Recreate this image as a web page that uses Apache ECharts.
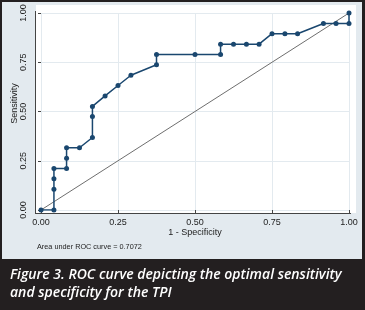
<!DOCTYPE html>
<html>
<head>
<meta charset="utf-8">
<script src="https://cdn.jsdelivr.net/npm/echarts@6/dist/echarts.min.js"></script>
<style>
  html, body { margin: 0; padding: 0; }
  body { width: 365px; height: 310px; background: #231f20; position: relative; overflow: hidden; }
  #panel { position: absolute; left: 2px; top: 2px; width: 360px; height: 257px; background: #e3eaef; }
  #plotbg { position: absolute; left: 36px; top: 5px; width: 320px; height: 208px; background: #ffffff; }
  #chart { position: absolute; left: 0; top: 0; width: 365px; height: 310px; }
</style>
</head>
<body>
<div id="panel"></div>
<div id="plotbg"></div>
<div id="chart"></div>
<script>
// ROC points (1 - specificity, sensitivity)
const fpr = [0, 0.042, 0.042, 0.042, 0.042, 0.083, 0.083, 0.083, 0.125, 0.167,
  0.167, 0.167, 0.208, 0.25, 0.292, 0.375, 0.375, 0.5, 0.583, 0.583,
  0.625, 0.667, 0.708, 0.75, 0.792, 0.833, 0.917, 0.958, 1, 1];
const tpr = [0, 0, 0.105, 0.158, 0.211, 0.211, 0.263, 0.316, 0.316, 0.368,
  0.474, 0.526, 0.579, 0.632, 0.684, 0.737, 0.789, 0.789, 0.789, 0.842,
  0.842, 0.842, 0.842, 0.895, 0.895, 0.895, 0.947, 0.947, 0.947, 1];
const refLine = [[0, 0], [1, 1]];
const axisTicks = [0, 0.25, 0.5, 0.75, 1];
const aucText = "Area under ROC curve = 0.7072";
const captionLines = [
  "Figure 3. ROC curve depicting the optimal sensitivity",
  "and specificity for the TPI"
];

const chart = echarts.init(document.getElementById("chart"), null, { renderer: "canvas" });

const axisFont = "Liberation Sans, Arial, sans-serif";
const tickStep = axisTicks[1] - axisTicks[0];

const option = {
  backgroundColor: "transparent",
  animation: false,
  grid: { left: 41, right: 16, top: 13, bottom: 100, outerBoundsMode: "none", containLabel: false },
  xAxis: {
    type: "value",
    min: axisTicks[0],
    max: axisTicks[axisTicks.length - 1],
    interval: tickStep,
    offset: 3,
    axisLine: { show: false },
    axisTick: { show: true, length: 3, lineStyle: { color: "#444", width: 1 } },
    axisLabel: {
      fontFamily: axisFont, fontSize: 9, color: "#222", margin: 5,
      formatter: (v) => v.toFixed(2)
    },
    splitLine: { show: true, lineStyle: { color: "#e3eaef", width: 1 } },
    name: "1 - Specificity",
    nameLocation: "middle",
    nameGap: 15,
    nameMoveOverlap: false,
    nameTextStyle: { fontFamily: axisFont, fontSize: 9, color: "#222" }
  },
  yAxis: {
    type: "value",
    min: axisTicks[0],
    max: axisTicks[axisTicks.length - 1],
    interval: tickStep,
    offset: 5,
    axisLine: { show: false },
    axisTick: { show: true, length: 3, lineStyle: { color: "#444", width: 1 } },
    axisLabel: {
      fontFamily: axisFont, fontSize: 9, color: "#222", margin: 8, rotate: 90,
      formatter: (v) => v.toFixed(2)
    },
    splitLine: { show: true, lineStyle: { color: "#e3eaef", width: 1 } },
    name: "Sensitivity",
    nameLocation: "middle",
    nameGap: 17,
    nameMoveOverlap: false,
    nameTextStyle: { fontFamily: axisFont, fontSize: 9, color: "#222", padding: [0, 0, 0, 16] }
  },
  graphic: [
    { type: "line", shape: { x1: 36, y1: 213.5, x2: 351, y2: 213.5 }, style: { stroke: "#444", lineWidth: 1 } },
    { type: "line", shape: { x1: 35.5, y1: 11, x2: 35.5, y2: 214 }, style: { stroke: "#444", lineWidth: 1 } },
    {
      type: "text", left: 37, top: 243,
      style: { text: aucText, font: "7.3px " + axisFont, fill: "#222" }
    },
    {
      type: "text", left: 10, top: 268,
      style: { text: captionLines[0], font: "italic 600 14px 'Open Sans', sans-serif", fill: "#ffffff" }
    },
    {
      type: "text", left: 10, top: 286,
      style: { text: captionLines[1], font: "italic 600 14px 'Open Sans', sans-serif", fill: "#ffffff" }
    }
  ],
  series: [
    {
      type: "line",
      data: refLine,
      showSymbol: false,
      lineStyle: { color: "#6e6e6e", width: 1 },
      silent: true
    },
    {
      type: "line",
      data: fpr.map((x, i) => [x, tpr[i]]),
      symbol: "circle",
      symbolSize: 5,
      itemStyle: { color: "#1a476f" },
      lineStyle: { color: "#1a476f", width: 1.5 }
    }
  ]
};

chart.setOption(option);
</script>
</body>
</html>
